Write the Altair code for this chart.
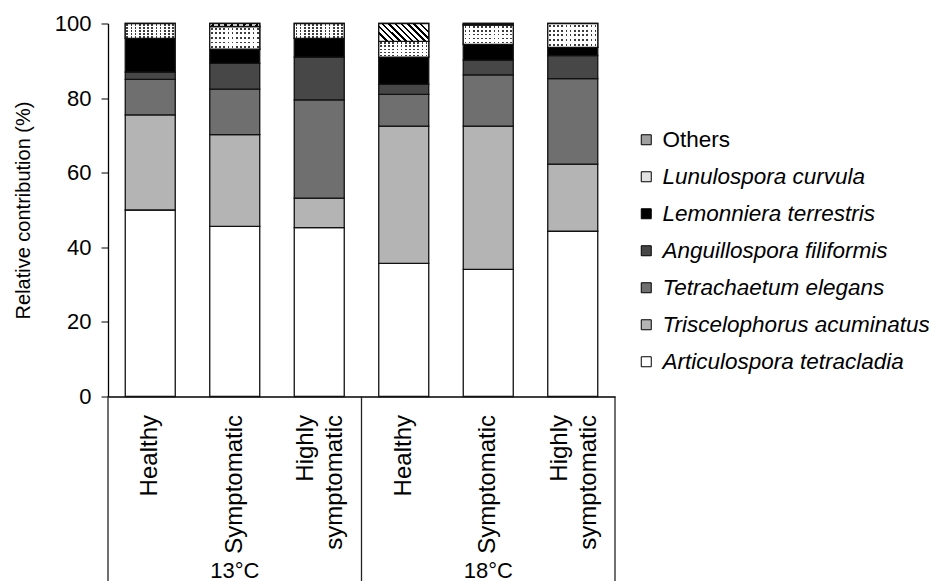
import altair as alt
import pandas as pd

temps = ["13°C", "18°C"]
conditions = ["Healthy", "Symptomatic", "Highly symptomatic"]
species = [
    "Articulospora tetracladia",
    "Triscelophorus acuminatus",
    "Tetrachaetum elegans",
    "Anguillospora filiformis",
    "Lemonniera terrestris",
    "Lunulospora curvula",
    "Others",
]
# bar order: 13°C Healthy, Symptomatic, Highly symptomatic, 18°C Healthy, Symptomatic, Highly symptomatic
articulospora = [50.0, 45.6, 45.3, 35.7, 34.1, 44.3]
triscelophorus = [25.5, 24.6, 7.9, 36.8, 38.4, 18.0]
tetrachaetum = [9.5, 12.2, 26.3, 8.5, 13.7, 22.9]
anguillospora = [2.0, 6.9, 11.5, 2.7, 4.0, 6.2]
lemonniera = [9.0, 3.8, 5.0, 7.3, 4.2, 2.2]
lunulospora = [4.0, 6.1, 4.0, 4.2, 5.2, 6.4]
others = [0.0, 0.8, 0.0, 4.8, 0.4, 0.0]
fill_colors = ["#ffffff", "#b4b4b4", "#6f6f6f", "#474747", "#000000", "#e2e2e2", "#a0a0a0"]

series = [articulospora, triscelophorus, tetrachaetum, anguillospora, lemonniera, lunulospora, others]
bar_keys = [f"{t}|{c}" for t in temps for c in conditions]

rows = []
for i, key in enumerate(bar_keys):
    low = 0.0
    for sp, vals in zip(species, series):
        v = vals[i]
        if v > 0:
            rows.append({"bar": key, "species": sp, "low": low, "high": low + v})
        low += v
df = pd.DataFrame(rows)

legend_order = species[::-1]
legend_colors = fill_colors[::-1]

W, H = 507, 373
FONT = "Liberation Sans"

x_enc = alt.X(
    "bar:N",
    sort=bar_keys,
    scale=alt.Scale(domain=bar_keys, paddingInner=0, paddingOuter=0),
    axis=alt.Axis(
        title=None, labelAngle=-90, labelFontSize=24, labelFont=FONT,
        labelExpr="split(split(datum.label, '|')[1], ' ')",
        labelOffset=alt.ExprRef("test(/Highly/, datum.value) ? -13 : 0"),
        ticks=False, tickSize=0, labelPadding=18, labelLineHeight=29,
        domainColor="black", domainWidth=1.3, labelColor="black",
    ),
)
y_enc = alt.Y(
    "low:Q",
    scale=alt.Scale(domain=[0, 100], nice=False),
    axis=alt.Axis(
        values=[0, 20, 40, 60, 80, 100], title="Relative contribution (%)",
        titleFontSize=20, titleFontWeight="normal", titleFont=FONT, titleColor="black",
        labelFontSize=22, labelFont=FONT, labelColor="black",
        tickSize=7, tickColor="black", labelPadding=10, titlePadding=21,
        grid=False, domainColor="black", domainWidth=1.3,
    ),
)

base = alt.Chart(df)

bars = base.mark_bar(size=50, stroke="#111111", strokeWidth=1.3).encode(
    x=x_enc,
    y=y_enc,
    y2="high:Q",
    color=alt.Color(
        "species:N",
        sort=legend_order,
        scale=alt.Scale(domain=legend_order, range=legend_colors),
        legend=alt.Legend(
            title=None, orient="none", legendX=527, legendY=105,
            symbolType="square", symbolSize=100, symbolStrokeColor="black",
            symbolStrokeWidth=1, labelFontSize=22.5, labelFont=FONT, labelColor="black",
            labelFontStyle=alt.ExprRef("datum.label == 'Others' ? 'normal' : 'italic'"),
            rowPadding=14, labelOffset=5, labelLimit=400,
        ),
    ),
)


def stripes(n, frac, c_on, c_off, x1, y1, x2, y2):
    stops = [alt.GradientStop(offset=0, color=c_off)]
    for k in range(n):
        a = k / n + (1 - frac) / n / 2
        b = a + frac / n
        stops += [
            alt.GradientStop(offset=a, color=c_off),
            alt.GradientStop(offset=a, color=c_on),
            alt.GradientStop(offset=b, color=c_on),
            alt.GradientStop(offset=b, color=c_off),
        ]
    stops.append(alt.GradientStop(offset=1, color=c_off))
    return alt.LinearGradient(gradient="linear", stops=stops, x1=x1, y1=y1, x2=x2, y2=y2)


vgrad = stripes(12, 0.4, "#3c3c3c", "#ffffff", 0, 0, 1, 0)
hgrad = stripes(5, 0.4, "rgba(255,255,255,0)", "rgba(255,255,255,1)", 0, 0, 0, 1)
diag = stripes(9, 0.4, "#000000", "#ffffff", 0, 0.68, 1, 0.32)

lun = base.transform_filter(alt.datum.species == "Lunulospora curvula")
dots_a = lun.mark_bar(size=50, fill=vgrad, strokeWidth=0).encode(x=x_enc, y=y_enc, y2="high:Q")
dots_b = lun.mark_bar(size=50, fill=hgrad, stroke="#111111", strokeWidth=1.3).encode(x=x_enc, y=y_enc, y2="high:Q")
hatch = base.transform_filter(alt.datum.species == "Others").mark_bar(
    size=50, fill=diag, stroke="#111111", strokeWidth=1.3
).encode(x=x_enc, y=y_enc, y2="high:Q")

sep_start = pd.DataFrame({"bar": [bar_keys[0], bar_keys[3]]})
sep_end = pd.DataFrame({"bar": [bar_keys[-1]]})
rule_a = alt.Chart(sep_start).mark_rule(color="#222222", strokeWidth=1.3).encode(
    x=alt.X("bar:N", bandPosition=0), y=alt.value(H), y2=alt.value(H + 220)
)
rule_b = alt.Chart(sep_end).mark_rule(color="#222222", strokeWidth=1.3).encode(
    x=alt.X("bar:N", bandPosition=1), y=alt.value(H), y2=alt.value(H + 220)
)

groups = pd.DataFrame({"bar": [bar_keys[1], bar_keys[4]], "temp": temps})
group_text = alt.Chart(groups).mark_text(
    fontSize=22, font=FONT, color="black", baseline="alphabetic"
).encode(x="bar:N", y=alt.value(H + 181), text="temp:N")

chart = (
    alt.layer(bars, dots_a, dots_b, hatch, rule_a, rule_b, group_text)
    .properties(
        width=W, height=H,
        background="white",
        autosize=alt.AutoSizeParams(type="none"),
        padding={"left": 100, "top": 15.5, "right": 314, "bottom": 220},
    )
    .configure_view(stroke=None)
)

chart.save("out.html", embed_options={"renderer": "svg", "actions": False})
